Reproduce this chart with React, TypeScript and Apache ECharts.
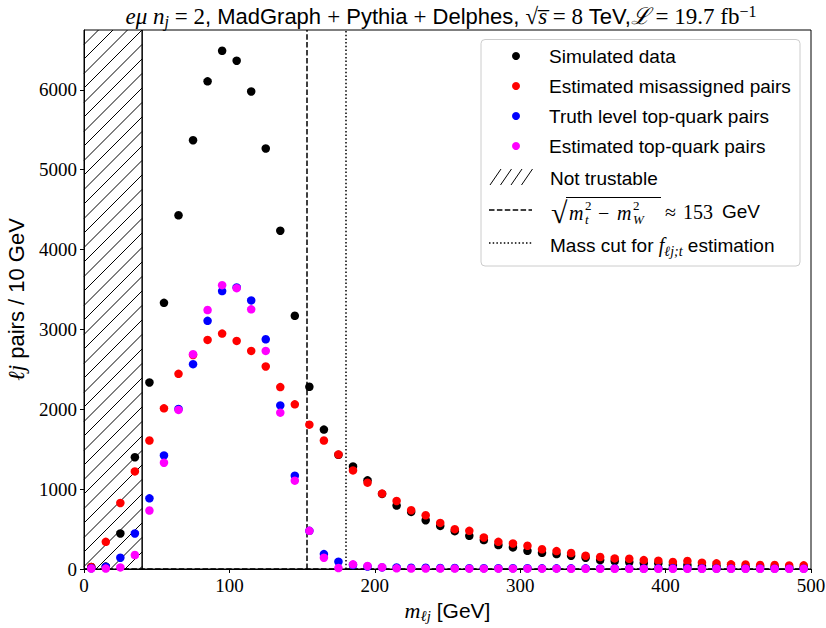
import React, { useEffect, useRef } from "react";
import * as echarts from "echarts";

// ---------- data ----------
const binCenters = [
  5, 15, 25, 35, 45, 55, 65, 75, 85, 95,
  105, 115, 125, 135, 145, 155, 165, 175, 185, 195,
  205, 215, 225, 235, 245, 255, 265, 275, 285, 295,
  305, 315, 325, 335, 345, 355, 365, 375, 385, 395,
  405, 415, 425, 435, 445, 455, 465, 475, 485, 495,
];

const simulatedData = [
  25, 30, 445, 1400, 2336, 3333, 4430, 5370, 6107, 6490,
  6365, 5980, 5266, 4236, 3171, 2282, 1746, 1430, 1285, 1110,
  940, 794, 715, 611, 540, 474, 415, 362, 299, 270,
  228, 203, 187, 166, 141, 112, 100, 87, 75, 69,
  50, 50, 37, 37, 25, 25, 30, 25, 20, 20,
];

const misassignedPairs = [
  25, 340, 827, 1222, 1609, 2012, 2444, 2680, 2869, 2948,
  2856, 2731, 2536, 2278, 2062, 1808, 1609, 1434, 1235, 1081,
  944, 852, 736, 673, 577, 499, 478, 395, 340, 320,
  291, 247, 224, 200, 166, 150, 133, 128, 112, 104,
  87, 100, 79, 71, 58, 56, 50, 50, 44, 46,
];

const truthTopPairs = [
  10, 29, 141, 445, 885, 1422, 2004, 2565, 3108, 3480,
  3526, 3364, 2877, 2049, 1168, 478, 187, 91, 50, 30,
  20, 20, 15, 15, 12, 12, 10, 10, 10, 10,
  10, 8, 8, 8, 8, 7, 7, 6, 6, 8,
  10, 8, 6, 5, 5, 5, 5, 4, 4, 4,
];

const estimatedTopPairs = [
  5, 5, 20, 175, 732, 1331, 1992, 2690, 3243, 3555,
  3517, 3252, 2731, 1958, 1106, 478, 141, 12, 58, 38,
  22, 8, 6, 5, 5, 5, 4, 4, 4, 4,
  4, 4, 4, 3, 3, 3, 3, 3, 3, 3,
  3, 3, 3, 3, 3, 3, 3, 3, 3, 3,
];

const notTrustableRange = [0, 40];
const sqrtMassLine = 153;
const massCutLine = 180;

const xMin = 0;
const xMax = 500;
const xInterval = 100;
const yMin = 0;
const yMax = 6750;
const yInterval = 1000;

const seriesNames = [
  "Simulated data",
  "Estimated misassigned pairs",
  "Truth level top-quark pairs",
  "Estimated top-quark pairs",
];
const seriesColors = ["#000000", "#ff0000", "#0000ff", "#ff00ff"];

// ---------- fonts ----------
const SERIF = "Liberation Serif, DejaVu Serif, serif";
const SANS = "Liberation Sans, Arial, sans-serif";

const mathRich = (size: number) => ({
  mi: { fontFamily: SERIF, fontStyle: "italic", fontWeight: "normal", fontSize: size, lineHeight: 26, color: "#000" },
  mr: { fontFamily: SERIF, fontWeight: "normal", fontSize: size, lineHeight: 26, color: "#000" },
  s: { fontFamily: SANS, fontWeight: "normal", fontSize: size - 1, lineHeight: 26, color: "#000" },
  sb: { fontFamily: SERIF, fontStyle: "italic", fontWeight: "normal", fontSize: Math.round(size * 0.7), lineHeight: 13, verticalAlign: "bottom", color: "#000" },
  sp: { fontFamily: SERIF, fontWeight: "normal", fontSize: Math.round(size * 0.7), lineHeight: 13, verticalAlign: "top", color: "#000" },
});

export default function App() {
  const ref = useRef<HTMLDivElement>(null);

  useEffect(() => {
    if (!ref.current) return;
    document.body.style.margin = "0";
    const chart = echarts.init(ref.current, null, { renderer: "svg" });

    const mk = (vals: number[]) => binCenters.map((x, i) => [x, vals[i]]);
    const valueArrays = [simulatedData, misassignedPairs, truthTopPairs, estimatedTopPairs];

    const hatchSeries = {
      type: "custom",
      name: "Not trustable",
      silent: true,
      z: 1,
      data: [[notTrustableRange[0], notTrustableRange[1]]],
      renderItem: (params: any, api: any) => {
        const cs = params.coordSys;
        const pL = api.coord([api.value(0), 0]);
        const pR = api.coord([api.value(1), 0]);
        const x0 = pL[0];
        const x1 = pR[0];
        const y0 = cs.y;
        const y1 = pL[1];
        const spacing = 14.5;
        const children: any[] = [];
        const cStart = x0 + y0 - spacing * 2;
        for (let c = cStart; c < x1 + y1 + spacing; c += spacing) {
          const xs = Math.max(x0, c - y1);
          const xe = Math.min(x1, c - y0);
          if (xe > xs) {
            children.push({
              type: "line",
              shape: { x1: xs, y1: c - xs, x2: xe, y2: c - xe },
              style: { stroke: "#000", lineWidth: 1 },
            });
          }
        }
        children.push({
          type: "line",
          shape: { x1: x1, y1: y0, x2: x1, y2: y1 },
          style: { stroke: "#000", lineWidth: 1.5 },
        });
        return { type: "group", children };
      },
    };

    const scatterSeries = seriesNames.map((name, i) => ({
      type: "scatter",
      name,
      symbol: "circle",
      symbolSize: 8.5,
      itemStyle: { color: seriesColors[i], opacity: 1 },
      data: mk(valueArrays[i]),
      z: 3 + i,
      ...(i === 0
        ? {
            markLine: {
              silent: true,
              symbol: ["none", "none"],
              label: { show: false },
              z: 2,
              data: [
                { xAxis: sqrtMassLine, lineStyle: { color: "#000", width: 1.5, type: [5.5, 2.4] } },
                { xAxis: massCutLine, lineStyle: { color: "#000", width: 1.5, type: [1.5, 2.2] } },
                { yAxis: 0, lineStyle: { color: "#000", width: 1.5, type: [5.5, 2.4] } },
              ],
            },
          }
        : {}),
    }));

    const lx = 489; // legend handle left
    const t = (x: number, y: number, text: string, font: string) => ({
      type: "text",
      x,
      y,
      style: { text, font, fill: "#000", verticalAlign: "middle" },
      z: 11,
    });
    const graphic: any[] = [
      {
        type: "rect",
        shape: { x: 481, y: 39.5, width: 319, height: 226.5, r: 4 },
        style: { fill: "rgba(255,255,255,0.8)", stroke: "#cccccc", lineWidth: 1 },
        z: 10,
      },
      // hatch handle
      ...[0, 1, 2, 3].map((k) => ({
        type: "line",
        shape: { x1: lx + 1 + k * 10.5, y1: 185, x2: lx + 12 + k * 10.5, y2: 169 },
        style: { stroke: "#000", lineWidth: 1 },
        z: 11,
      })),
      t(550, 178, "Not trustable", `19px ${SANS}`),
      // dashed handle
      {
        type: "line",
        shape: { x1: lx, y1: 210, x2: 532, y2: 210 },
        style: { stroke: "#000", lineWidth: 1.5, lineDash: [5.5, 2.4] },
        z: 11,
      },
      // sqrt formula
      t(551, 212, "√", `30px ${SERIF}`),
      {
        type: "line", shape: { x1: 566, y1: 197.5, x2: 661, y2: 197.5 },
        style: { stroke: "#000", lineWidth: 1 }, z: 11,
      },
      t(569, 213, "m", `italic 20px ${SERIF}`),
      t(585, 205, "2", `13px ${SERIF}`),
      t(585, 219, "t", `italic 13px ${SERIF}`),
      t(598, 213, "−", `20px ${SERIF}`),
      t(617, 213, "m", `italic 20px ${SERIF}`),
      t(633, 205, "2", `13px ${SERIF}`),
      t(633, 219, "W", `italic 13px ${SERIF}`),
      t(665, 212, "≈", `20px ${SERIF}`),
      t(683, 212, "153", `20px ${SERIF}`),
      t(722, 211, "GeV", `19px ${SANS}`),
      // dotted handle
      {
        type: "line",
        shape: { x1: lx, y1: 243, x2: 532, y2: 243 },
        style: { stroke: "#000", lineWidth: 1.5, lineDash: [1.5, 2.2] },
        z: 11,
      },
      {
        type: "text",
        x: 550,
        y: 245,
        style: {
          text: "{s|Mass cut for }{mi|f}{sb|ℓj;t}{s| estimation}",
          rich: mathRich(20),
          fill: "#000",
          verticalAlign: "middle",
        },
        z: 11,
      },
    ];

    const option: any = {
      animation: false,
      backgroundColor: "#ffffff",
      title: {
        text:
          "{mi|eμ n}{sb|j}{mr| = 2}{s|, MadGraph }{mr|+}{s| Pythia }{mr|+}{s| Delphes, }{mr|√}{mi|s̅}{mr| = 8 }{s|TeV,}{mi|ℒ}{mr| = 19.7 fb}{sp|−1}",
        left: 436,
        textAlign: "center",
        top: -2,
        textStyle: { rich: mathRich(23), fontWeight: "normal", color: "#000" },
      },
      grid: {
        left: 84,
        right: 15,
        top: 30,
        bottom: 59,
        show: true,
        borderColor: "#000",
        borderWidth: 1,
        backgroundColor: "transparent",
        outerBoundsMode: "none",
        containLabel: false,
      },
      legend: {
        data: seriesNames,
        orient: "vertical",
        left: 507,
        top: 41,
        icon: "circle",
        itemWidth: 8,
        itemHeight: 8,
        itemGap: 10,
        selectedMode: false,
        z: 12,
        textStyle: {
          fontFamily: SANS,
          fontSize: 19,
          color: "#000",
          lineHeight: 20,
          padding: [0, 0, 0, 24],
        },
      },
      xAxis: {
        type: "value",
        min: xMin,
        max: xMax,
        interval: xInterval,
        name: "{mi|m}{sb|ℓj}{s| [GeV]}",
        nameLocation: "middle",
        nameGap: 26,
        nameTextStyle: { rich: mathRich(22), color: "#000" },
        axisLine: { show: true, lineStyle: { color: "#000", width: 1 } },
        axisTick: { show: true, inside: false, length: 4, lineStyle: { color: "#000" } },
        axisLabel: { color: "#000", fontFamily: SERIF, fontSize: 19, margin: 7 },
        splitLine: { show: false },
      },
      yAxis: {
        type: "value",
        min: yMin,
        max: yMax,
        interval: yInterval,
        name: "{mi|ℓj}{s| pairs / 10 GeV}",
        nameLocation: "middle",
        nameRotate: 90,
        nameGap: 51,
        nameTextStyle: { rich: mathRich(23), color: "#000" },
        axisLine: { show: true, lineStyle: { color: "#000", width: 1 } },
        axisTick: { show: true, inside: false, length: 4, lineStyle: { color: "#000" } },
        axisLabel: {
          color: "#000",
          fontFamily: SERIF,
          fontSize: 19,
          margin: 7,
          showMaxLabel: false,
          formatter: (v: number) => String(v),
        },
        splitLine: { show: false },
      },
      graphic,
      series: [hatchSeries, ...scatterSeries],
    };

    chart.setOption(option);
    return () => chart.dispose();
  }, []);

  return <div ref={ref} style={{ width: 826, height: 628 }} />;
}
